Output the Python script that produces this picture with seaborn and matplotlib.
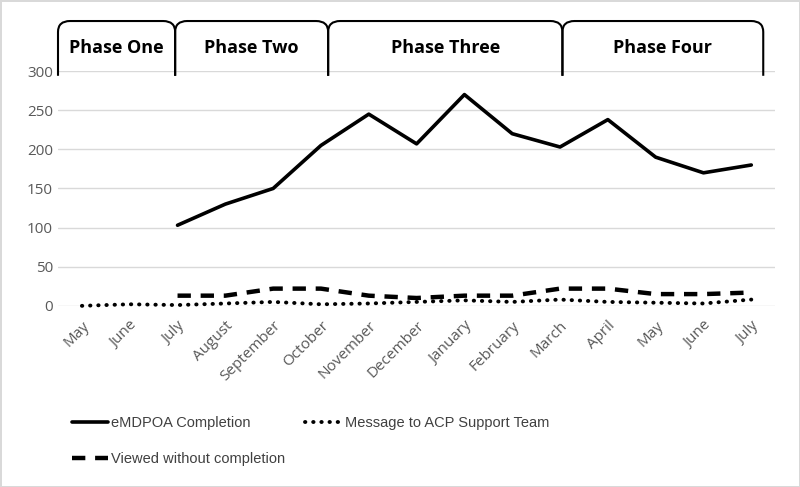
import numpy as np
import pandas as pd
import matplotlib
matplotlib.use("Agg")
import matplotlib.pyplot as plt
from matplotlib.path import Path
from matplotlib.patches import PathPatch
import seaborn as sb

months = ["May", "June", "July", "August", "September", "October", "November",
          "December", "January", "February", "March", "April", "May", "June", "July"]
completion = [np.nan, np.nan, 103, 130, 150, 205, 245, 207, 270, 220, 203, 238, 190, 170, 180]
viewed = [np.nan, np.nan, 13, 13, 22, 22, 13, 10, 13, 13, 22, 22, 15, 15, 17]
message = [0, 2, 1, 3, 5, 2, 3, 5, 7, 5, 8, 5, 4, 3, 8]

phases = ["Phase One", "Phase Two", "Phase Three", "Phase Four"]
phase_edges = [-0.5, 1.95, 5.15, 10.05, 14.25]

sb.set_style("white")
plt.rcParams["font.family"] = ["Open Sans", "DejaVu Sans"]

fig = plt.figure(figsize=(8, 4.87), dpi=100)
fig.patch.set_edgecolor("#d9d9d9")
fig.patch.set_linewidth(2)
ax = fig.add_axes([0.0725, 0.372, 0.8965, 0.482])

x = np.arange(len(months))
sb.lineplot(x=x, y=completion, ax=ax, color="black", lw=2.6, label="eMDPOA Completion")
sb.lineplot(x=x, y=viewed, ax=ax, color="black", lw=3.2, label="Viewed without completion",
            linestyle=(0, (3, 2.2)))
sb.lineplot(x=x, y=message, ax=ax, color="black", lw=2.8, label="Message to ACP Support Team",
            linestyle=(0, (0.1, 2.0)), dash_capstyle="round")
for l in ax.get_lines():
    l.set_clip_on(False)

ax.set_xlim(-0.5, len(months) - 0.5)
ax.set_ylim(0, 300)
ax.set_yticks(range(0, 301, 50))
ax.set_xticks(x)
ax.set_xticklabels(months, rotation=45, ha="right", rotation_mode="anchor")
ax.tick_params(axis="both", colors="#595959", labelsize=11, length=0)
ax.tick_params(axis="x", pad=9)
ax.grid(axis="y", color="#d9d9d9", lw=1)
for s in ax.spines.values():
    s.set_visible(False)

# phase brackets above the plot
top, bot, r = 364, 294, 0.25
for name, x0, x1 in zip(phases, phase_edges[:-1], phase_edges[1:]):
    ry = 14
    verts = [(x0, bot), (x0, top - ry), (x0, top), (x0 + r, top),
             (x1 - r, top), (x1, top), (x1, top - ry), (x1, bot)]
    codes = [Path.MOVETO, Path.LINETO, Path.CURVE3, Path.CURVE3,
             Path.LINETO, Path.CURVE3, Path.CURVE3, Path.LINETO]
    ax.add_patch(PathPatch(Path(verts, codes), fill=False, ec="black", lw=1.5, clip_on=False))
    ax.text((x0 + x1) / 2, 330, name, ha="center", va="center", fontsize=13,
            fontweight="bold", color="black")

h, lab = ax.get_legend_handles_labels()
ax.legend_.remove()
fig.legend(h, lab, ncol=2, loc="upper left", bbox_to_anchor=(0.073, 0.172), frameon=False,
           prop={"family": ["Liberation Sans", "DejaVu Sans"], "size": 10.5},
           labelcolor="#404040", handlelength=2.5, handletextpad=0.2,
           columnspacing=1.4, labelspacing=1.5)

fig.savefig("out.png", dpi=100)
